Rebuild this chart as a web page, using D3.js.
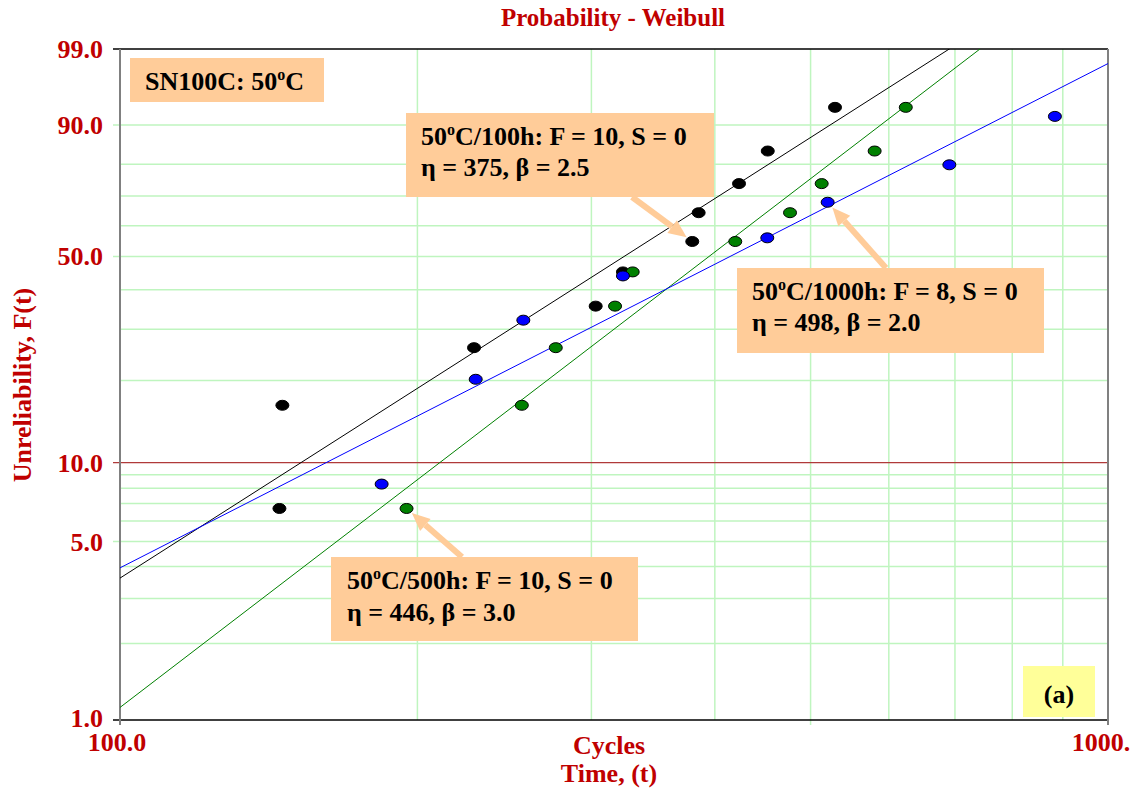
<!DOCTYPE html>
<html>
<head>
<meta charset="utf-8">
<script src="https://cdn.jsdelivr.net/npm/d3@7"></script>
<style>
  body { margin: 0; background: #fff; }
  svg text { font-family: "Liberation Serif", "Times New Roman", serif; font-weight: bold; }
</style>
</head>
<body>
<svg id="chart" width="1136" height="792"></svg>
<script>
// Failure times (cycles) and median-rank unreliability (%) for each ageing condition
const times100h  = [145.0, 146.0, 228.2, 303.0, 322.9, 379.5, 385.2, 423.2, 452.5, 529.3];
const ranks100h  = [6.7, 16.3, 26.0, 35.6, 45.2, 54.8, 64.4, 74.0, 83.7, 93.3];
const times500h  = [195.0, 255.1, 276.1, 317.0, 330.3, 419.5, 476.6, 513.1, 580.5, 624.2];
const ranks500h  = [6.7, 16.3, 26.0, 35.6, 45.2, 54.8, 64.4, 74.0, 83.7, 93.3];
const times1000h = [184.0, 229.1, 256.0, 322.9, 452.0, 520.3, 690.9, 883.6];
const ranks1000h = [8.3, 20.2, 32.1, 44.0, 56.0, 67.9, 79.8, 91.7];

// Fitted Weibull parameters (scale eta, shape beta)
const eta100h = 375,  beta100h = 2.5;
const eta500h = 446,  beta500h = 3.0;
const eta1000h = 498, beta1000h = 2.0;

// Axis ticks and grid
const yGridValues  = [1, 2, 3, 4, 5, 6, 7, 8, 9, 10, 20, 30, 40, 50, 60, 70, 80, 90, 99];
const yTickValues  = [1, 5, 10, 50, 90, 99];
const yTickLabels  = ["1.0", "5.0", "10.0", "50.0", "90.0", "99.0"];
const xGridValues  = [200, 300, 400, 500, 600, 700, 800, 900];
const xTickValues  = [100, 1000];
const xTickLabels  = ["100.0", "1000."];
const xMarkValues  = [100, 500, 1000];

const svg = d3.select("#chart");
const plot = { left: 120, right: 1108, top: 49, bottom: 720 };
const darkRed = "#c00000";
const gridGreen = "#bff5bf";
const peach = "#ffcc99";

// Weibull probability-paper transform
const weib = p => Math.log(-Math.log(1 - p / 100));
const x = d3.scaleLog().domain([100, 1000]).range([plot.left, plot.right]);
const y = d3.scaleLinear().domain([weib(1), weib(99)]).range([plot.bottom, plot.top]);
const yP = p => y(weib(p));

svg.append("defs").append("clipPath").attr("id", "plotClip")
  .append("rect").attr("x", plot.left).attr("y", plot.top)
  .attr("width", plot.right - plot.left).attr("height", plot.bottom - plot.top);

// Grid
const grid = svg.append("g");
grid.selectAll("line.v").data(xGridValues).join("line")
  .attr("x1", d => x(d)).attr("x2", d => x(d))
  .attr("y1", plot.top).attr("y2", d => xMarkValues.includes(d) ? plot.bottom + 5 : plot.bottom)
  .attr("stroke", gridGreen).attr("stroke-width", 1.5);
grid.selectAll("line.h").data(yGridValues.filter(d => d !== 1 && d !== 99 && d !== 10)).join("line")
  .attr("x1", d => yTickValues.includes(d) ? plot.left - 7 : plot.left)
  .attr("x2", plot.right)
  .attr("y1", d => yP(d)).attr("y2", d => yP(d))
  .attr("stroke", gridGreen).attr("stroke-width", 1.5);

// 10% reference line
svg.append("line")
  .attr("x1", plot.left - 7).attr("x2", plot.right)
  .attr("y1", yP(10)).attr("y2", yP(10))
  .attr("stroke", "#b03a3a").attr("stroke-width", 1.2);

// Frame
[1, 99].forEach(p => {
  svg.append("line")
    .attr("x1", plot.left - 7).attr("x2", plot.right)
    .attr("y1", yP(p)).attr("y2", yP(p))
    .attr("stroke", "#000").attr("stroke-width", 1.5);
});
xTickValues.forEach(t => {
  svg.append("line")
    .attr("x1", x(t)).attr("x2", x(t))
    .attr("y1", plot.top).attr("y2", plot.bottom + 5)
    .attr("stroke", "#808080").attr("stroke-width", 2);
});

// Fitted Weibull lines (straight on probability paper)
const fits = [
  { eta: eta100h, beta: beta100h, color: "#000000" },
  { eta: eta500h, beta: beta500h, color: "#008000" },
  { eta: eta1000h, beta: beta1000h, color: "#0000ff" }
];
const fitG = svg.append("g").attr("clip-path", "url(#plotClip)");
fits.forEach(f => {
  const ends = [100, 1000].map(t => [x(t), y(f.beta * Math.log(t / f.eta))]);
  fitG.append("line")
    .attr("x1", ends[0][0]).attr("y1", ends[0][1])
    .attr("x2", ends[1][0]).attr("y2", ends[1][1])
    .attr("stroke", f.color).attr("stroke-width", 1);
});

// Data points
const series = [
  { t: times100h, p: ranks100h, color: "#000000" },
  { t: times500h, p: ranks500h, color: "#008000" },
  { t: times1000h, p: ranks1000h, color: "#0000ff" }
];
series.forEach(s => {
  svg.append("g").selectAll("ellipse").data(s.t.map((t, i) => [t, s.p[i]])).join("ellipse")
    .attr("cx", d => x(d[0])).attr("cy", d => yP(d[1]))
    .attr("rx", 6.5).attr("ry", 5)
    .attr("fill", s.color).attr("stroke", "#000").attr("stroke-width", 1);
});

// Tick labels
svg.append("g").selectAll("text").data(yTickValues).join("text")
  .attr("x", 103).attr("y", d => yP(d) + (d === 1 ? 7 : 9))
  .attr("text-anchor", "end").attr("font-size", 26).attr("fill", darkRed)
  .text((d, i) => yTickLabels[i]);
svg.append("g").selectAll("text").data(xTickValues).join("text")
  .attr("x", (d, i) => x(d) + (i === 0 ? -3 : -7)).attr("y", 751)
  .attr("text-anchor", "middle").attr("font-size", 26).attr("fill", darkRed)
  .text((d, i) => xTickLabels[i]);

// Titles
svg.append("text").attr("x", 613).attr("y", 26).attr("text-anchor", "middle")
  .attr("font-size", 25).attr("fill", darkRed).text("Probability - Weibull");
svg.append("text").attr("transform", "translate(31,385) rotate(-90)").attr("text-anchor", "middle")
  .attr("font-size", 26).attr("fill", darkRed).text("Unreliability, F(t)");
svg.append("text").attr("x", 609).attr("y", 754).attr("text-anchor", "middle")
  .attr("font-size", 26).attr("fill", darkRed).text("Cycles");
svg.append("text").attr("x", 609).attr("y", 782).attr("text-anchor", "middle")
  .attr("font-size", 26).attr("fill", darkRed).text("Time, (t)");

// Annotation arrows pointing at data points
function arrow(tail, s, i) {
  const px = x(series[s].t[i]), py = yP(series[s].p[i]);
  const dx = px - tail[0], dy = py - tail[1];
  const len = Math.hypot(dx, dy), ux = dx / len, uy = dy / len;
  const tip = [px - ux * 7, py - uy * 7];
  const base = [tip[0] - ux * 18, tip[1] - uy * 18];
  const nx = -uy, ny = ux;
  svg.append("line")
    .attr("x1", tail[0]).attr("y1", tail[1]).attr("x2", base[0]).attr("y2", base[1])
    .attr("stroke", peach).attr("stroke-width", 6);
  svg.append("polygon")
    .attr("points", [tip, [base[0] + nx * 8, base[1] + ny * 8], [base[0] - nx * 8, base[1] - ny * 8]]
      .map(p => p.join(",")).join(" "))
    .attr("fill", peach);
}
arrow([632, 197], 0, 5);
arrow([886, 268], 2, 5);
arrow([462, 557], 1, 0);

// Annotation boxes
function degText(g, tx, ty, pre, post) {
  const t = g.append("text").attr("x", tx).attr("y", ty).attr("font-size", 26).attr("fill", "#000");
  t.append("tspan").text(pre);
  t.append("tspan").attr("font-size", 16).attr("dy", -10).text("o");
  t.append("tspan").attr("dy", 10).text(post);
}
function box(rx, ry, rw, rh, fill) {
  const g = svg.append("g");
  g.append("rect").attr("x", rx).attr("y", ry).attr("width", rw).attr("height", rh).attr("fill", fill);
  return g;
}

let g = box(130, 58, 194, 44, peach);
degText(g, 145, 90, "SN100C: 50", "C");

g = box(406, 113, 308, 84, peach);
degText(g, 421, 145, "50", "C/100h: F = 10, S = 0");
g.append("text").attr("x", 421).attr("y", 176).attr("font-size", 26).text("η = 375, β = 2.5");

g = box(737, 268, 307, 85, peach);
degText(g, 752, 300, "50", "C/1000h: F = 8, S = 0");
g.append("text").attr("x", 752).attr("y", 331).attr("font-size", 26).text("η = 498, β = 2.0");

g = box(331, 557, 307, 84, peach);
degText(g, 347, 589, "50", "C/500h: F = 10, S = 0");
g.append("text").attr("x", 347).attr("y", 621).attr("font-size", 26).text("η = 446, β = 3.0");

g = box(1023, 666, 72, 51, "#ffff99");
g.append("text").attr("x", 1059).attr("y", 703).attr("text-anchor", "middle")
  .attr("font-size", 26).text("(a)");
</script>
</body>
</html>
